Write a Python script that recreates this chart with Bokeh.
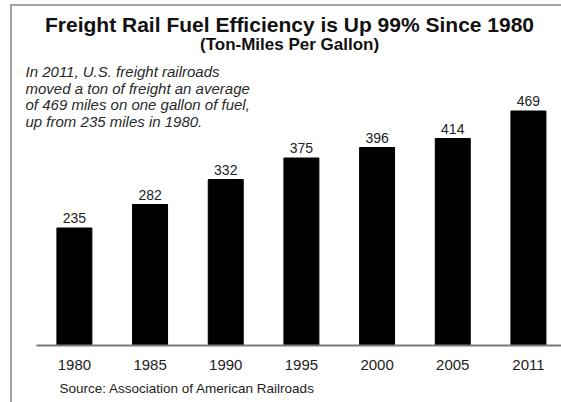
from bokeh.plotting import figure
from bokeh.models import Range1d, FixedTicker, Label, ColumnDataSource, Title
from bokeh.core.properties import value
from bokeh.embed import file_html
from bokeh.resources import INLINE

# ---- data ----
years = ["1980", "1985", "1990", "1995", "2000", "2005", "2011"]
ton_miles = [235, 282, 332, 375, 396, 414, 469]
title_text = "Freight Rail Fuel Efficiency is Up 99% Since 1980"
subtitle_text = "(Ton-Miles Per Gallon)"
note_lines = [
    "In 2011, U.S. freight railroads",
    "moved a ton of freight an average",
    "of 469 miles on one gallon of fuel,",
    "up from 235 miles in 1980.",
]
source_text = "Source: Association of American Railroads"

FONT = "Liberation Sans"
X_START, X_END = -0.818, 6.437
Y_END = 678

idx = list(range(len(years)))
src = ColumnDataSource(dict(x=idx, top=ton_miles, label=[str(v) for v in ton_miles]))

p = figure(
    frame_width=549, frame_height=339,
    output_backend="svg", toolbar_location=None,
    x_range=Range1d(X_START, X_END), y_range=Range1d(0, Y_END),
    y_axis_location=None,
    min_border_left=0, min_border_right=0, min_border_top=0, min_border_bottom=56,
    styles={"margin-top": "4px", "margin-left": "10px",
            "border-top": "2px solid #a3a3a3", "border-left": "2px solid #a3a3a3"},
)
p.outline_line_color = None
p.xgrid.visible = False
p.ygrid.visible = False
p.background_fill_color = "white"
p.border_fill_color = "white"

p.vbar(x="x", top="top", bottom=0, width=0.462, source=src,
       fill_color="black", line_color="black")
p.text(x="x", y="top", text="label", source=src, y_offset=-5,
       text_align="center", text_baseline="bottom",
       text_font=value(FONT), text_font_size="14px", text_color="#222222")

ax = p.xaxis[0]
ax.ticker = FixedTicker(ticks=idx)
ax.major_label_overrides = {i: y for i, y in zip(idx, years)}
ax.major_label_text_font = FONT
ax.major_label_text_font_size = "15px"
ax.major_label_text_color = "#222222"
ax.major_tick_line_color = None
ax.minor_tick_line_color = None
ax.major_tick_out = 0
ax.major_tick_in = 0
ax.major_label_standoff = 14
ax.axis_line_color = "#7a7a7a"
ax.axis_line_width = 2
ax.bounds = (-0.5, X_END)

p.add_layout(Title(text=source_text, align="left", offset=47, standoff=13,
                   text_font=FONT, text_font_size="13.5px", text_font_style="normal",
                   text_color="#222222"), "below")

cx = 2.843
p.add_layout(Label(x=cx, y=(345 - 23.5) * 2, text=title_text, text_align="center",
                   text_baseline="alphabetic", text_font=FONT, text_font_style="bold",
                   text_font_size="21px", text_color="#111111"))
p.add_layout(Label(x=cx, y=(345 - 43.5) * 2, text=subtitle_text, text_align="center",
                   text_baseline="alphabetic", text_font=FONT, text_font_style="bold",
                   text_font_size="17px", text_color="#111111"))

for i, line in enumerate(note_lines):
    p.add_layout(Label(x=-0.646, y=(345 - (71 + 16.5 * i)) * 2, text=line, text_align="left",
                       text_baseline="alphabetic", text_font=FONT, text_font_style="italic",
                       text_font_size="15px", text_color="#2a2a2a"))

open("out.html", "w").write(file_html(p, INLINE))
